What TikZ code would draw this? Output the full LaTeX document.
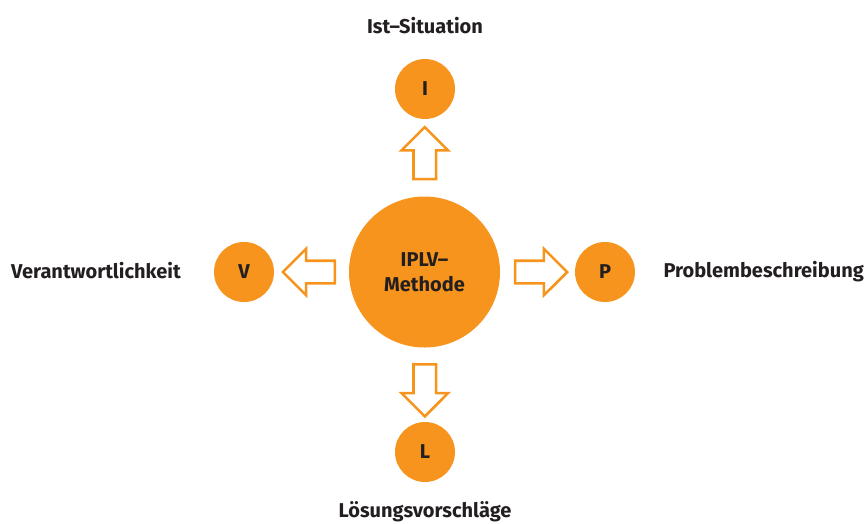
\documentclass[tikz,border=0pt]{standalone}
\usepackage{fontspec}
\setmainfont{Fira Sans}
\usetikzlibrary{positioning,shapes.arrows,calc}
\definecolor{iplvorange}{HTML}{F7941D}
\definecolor{iplvtext}{HTML}{231F20}
\tikzset{
  bigdot/.style={circle, fill=iplvorange, minimum size=151pt, inner sep=0pt,
    align=center, font=\fontsize{20}{25}\selectfont\bfseries, text=iplvtext},
  smalldot/.style={circle, fill=iplvorange, minimum size=60pt, inner sep=0pt,
    font=\fontsize{20}{24}\selectfont\bfseries, text=iplvtext},
  caption/.style={font=\fontsize{20}{24}\selectfont\bfseries, text=iplvtext, inner sep=0pt},
  hollowarrow/.style={single arrow, draw=iplvorange, fill=white, line width=2.6pt,
    inner sep=10pt, minimum width=44pt, single arrow head extend=12pt,
    single arrow head indent=0pt, minimum height=52pt}
}
\begin{document}
\begin{tikzpicture}[x=1pt,y=-1pt]
  \useasboundingbox (0,0) rectangle (868,523);
  % centre and the four steps
  \node[bigdot] (iplv) at (424.5,272) {IPLV--\\Methode};
  \node[smalldot] (I) at (425,89) {I};
  \node[smalldot] (V) at (244,272) {V};
  \node[smalldot] (P) at (605,272) {P};
  \node[smalldot] (L) at (425,452) {L};
  % captions
  \node[caption] (ist) at (425,26) {Ist--Situation};
  \node[caption, anchor=east] (ver) at (181,271) {Verantwortlichkeit};
  \node[caption, anchor=east] (pro) at (864,272) {Problembeschreibung};
  \node[caption] (loe) at (425,512) {Lösungsvorschläge};
  % hollow arrows
  \node[hollowarrow, shape border rotate=90] (aI) at ($(iplv.north)!0.5!(I.south)+(0,1)$) {};
  \node[hollowarrow, shape border rotate=180] (aV) at ($(iplv.west)!0.5!(V.east)+(3,0)$) {};
  \node[hollowarrow] (aP) at ($(iplv.east)!0.5!(P.west)+(-2,0)$) {};
  \node[hollowarrow, shape border rotate=270] (aL) at ($(iplv.south)!0.5!(L.north)$) {};
\end{tikzpicture}
\end{document}
